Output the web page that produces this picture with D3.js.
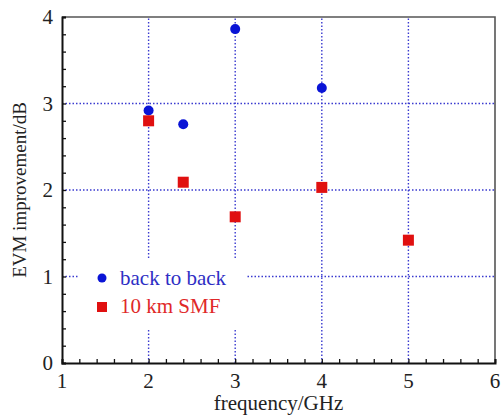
<!DOCTYPE html>
<html>
<head>
    <meta charset="utf-8">
    <title>EVM improvement</title>
    <style type="text/css">
        body {
            margin: 0;
            background: #fff;
        }
        text {
            font-family: 'Liberation Serif', 'Times New Roman', serif;
            fill: #222;
        }
        .grid line {
            stroke: #3a3ad0;
            stroke-width: 1.4;
            stroke-dasharray: 1.5, 2;
        }
    </style>
</head>
<body>
<script src="https://d3js.org/d3.v7.min.js"></script>
<script>

    var width = 502,
        height = 418;

    var margin = {top: 17, right: 7, bottom: 55, left: 62};

    // data
    var b2bFreq = [2, 2.4, 3, 4];
    var b2bEvm = [2.92, 2.76, 3.86, 3.18];
    var smfFreq = [2, 2.4, 3, 4, 5];
    var smfEvm = [2.80, 2.09, 1.69, 2.03, 1.42];

    var xTicks = [1, 2, 3, 4, 5, 6];
    var yTicks = [0, 1, 2, 3, 4];
    var seriesNames = ["back to back", "10 km SMF"];

    var x = d3.scaleLinear().domain([1, 6]).range([margin.left, width - margin.right]);
    var y = d3.scaleLinear().domain([0, 4]).range([height - margin.bottom, margin.top]);

    var svg = d3.select("body").append("svg")
        .attr("width", width)
        .attr("height", height);

    // grid
    var grid = svg.append("g").attr("class", "grid");
    grid.selectAll(".gx")
        .data(xTicks.slice(1, -1)).enter()
        .append("line")
        .attr("x1", function (d) { return x(d); })
        .attr("x2", function (d) { return x(d); })
        .attr("y1", y(0))
        .attr("y2", y(4));
    grid.selectAll(".gy")
        .data(yTicks.slice(1, -1)).enter()
        .append("line")
        .attr("x1", x(1))
        .attr("x2", x(6))
        .attr("y1", function (d) { return y(d); })
        .attr("y2", function (d) { return y(d); });

    // frame top/right
    svg.append("path")
        .attr("d", "M" + x(1) + "," + y(4) + "H" + x(6) + "V" + y(0))
        .attr("fill", "none")
        .attr("stroke", "#555")
        .attr("stroke-width", 1.6);

    // axes with minor ticks (inside)
    var xAxis = svg.append("g")
        .attr("transform", "translate(0," + y(0) + ")")
        .call(d3.axisBottom(x).tickValues(d3.range(1, 6.01, 0.2)).tickSize(-4).tickFormat(""));
    var yAxis = svg.append("g")
        .attr("transform", "translate(" + x(1) + ",0)")
        .call(d3.axisLeft(y).tickValues(d3.range(0, 4.01, 0.2)).tickSize(-4).tickFormat(""));
    [xAxis, yAxis].forEach(function (a) {
        a.select(".domain").attr("stroke", "#111").attr("stroke-width", 2);
        a.selectAll(".tick line").attr("stroke", "#111").attr("stroke-width", 1.3);
    });

    // tick labels
    svg.append("g").selectAll("text")
        .data(xTicks).enter()
        .append("text")
        .attr("x", function (d) { return x(d); })
        .attr("y", y(0) + 25)
        .attr("text-anchor", "middle")
        .style("font-size", "21px")
        .text(function (d) { return d; });
    svg.append("g").selectAll("text")
        .data(yTicks).enter()
        .append("text")
        .attr("x", x(1) - 9)
        .attr("y", function (d) { return y(d) + 7; })
        .attr("text-anchor", "end")
        .style("font-size", "21px")
        .text(function (d) { return d; });

    // axis titles
    svg.append("text")
        .attr("x", (x(1) + x(6)) / 2)
        .attr("y", 410)
        .attr("text-anchor", "middle")
        .style("font-size", "21px")
        .text("frequency/GHz");
    svg.append("text")
        .attr("transform", "translate(26," + (y(0) + y(4)) / 2 + ") rotate(-90)")
        .attr("text-anchor", "middle")
        .style("font-size", "19px")
        .text("EVM improvement/dB");

    // legend
    var lg = svg.append("g");
    lg.append("rect")
        .attr("x", 78).attr("y", 260)
        .attr("width", 168).attr("height", 70)
        .attr("fill", "#fff");
    lg.append("circle")
        .attr("cx", 102).attr("cy", 278).attr("r", 4.5)
        .attr("fill", "#0a14d6");
    lg.append("text")
        .attr("x", 120).attr("y", 285)
        .style("font-size", "21px")
        .style("fill", "#2e2ec4")
        .text(seriesNames[0]);
    lg.append("rect")
        .attr("x", 97).attr("y", 302).attr("width", 10).attr("height", 10)
        .attr("fill", "#e01010");
    lg.append("text")
        .attr("x", 120).attr("y", 313)
        .style("font-size", "21px")
        .style("fill", "#e02828")
        .text(seriesNames[1]);

    // points
    svg.append("g").selectAll("circle")
        .data(d3.zip(b2bFreq, b2bEvm)).enter()
        .append("circle")
        .attr("cx", function (d) { return x(d[0]); })
        .attr("cy", function (d) { return y(d[1]); })
        .attr("r", 5)
        .attr("fill", "#0a14d6");

    svg.append("g").selectAll("rect")
        .data(d3.zip(smfFreq, smfEvm)).enter()
        .append("rect")
        .attr("x", function (d) { return x(d[0]) - 5.5; })
        .attr("y", function (d) { return y(d[1]) - 5.5; })
        .attr("width", 11)
        .attr("height", 11)
        .attr("fill", "#e01010");

</script>
</body>
</html>
